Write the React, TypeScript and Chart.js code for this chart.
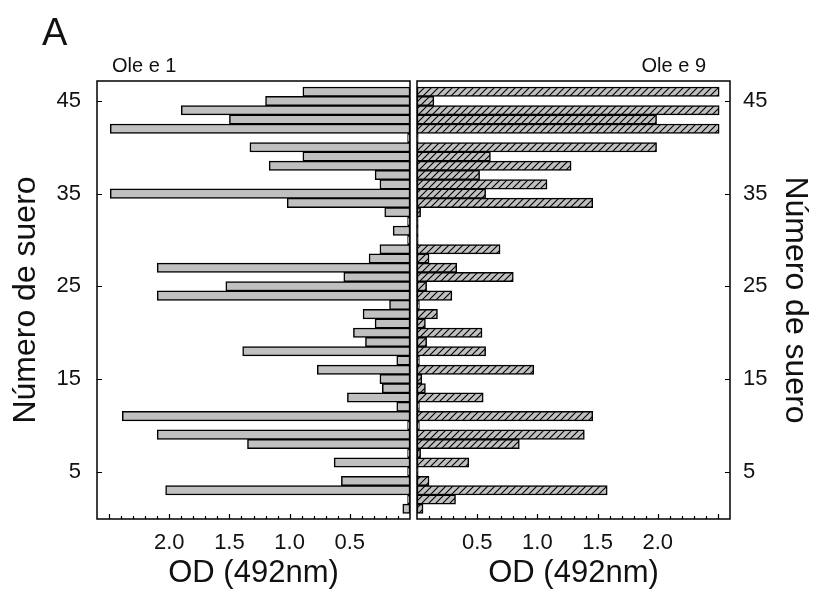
import React, { useEffect, useRef } from 'react';
import { Chart, registerables } from 'chart.js';

Chart.register(...registerables);

const serumNumbers = [
  1, 2, 3, 4, 5, 6, 7, 8, 9, 10, 11, 12, 13, 14, 15, 16, 17, 18, 19, 20, 21, 22, 23,
  24, 25, 26, 27, 28, 29, 30, 31, 32, 33, 34, 35, 36, 37, 38, 39, 40, 41, 42, 43, 44, 45, 46,
];

const oleE1 = [
  0.06, 0.02, 2.03, 0.57, 0.02, 0.63, 0.02, 1.35, 2.1, 0.02, 2.39, 0.11, 0.52, 0.23, 0.25, 0.77,
  0.11, 1.39, 0.37, 0.47, 0.29, 0.39, 0.17, 2.1, 1.53, 0.55, 2.1, 0.34, 0.25, 0.02, 0.14, 0.02,
  0.21, 1.02, 2.49, 0.25, 0.29, 1.17, 0.89, 1.33, 0.02, 2.49, 1.5, 1.9, 1.2, 0.89,
];

const oleE9 = [
  0.05, 0.32, 1.58, 0.1, 0.01, 0.43, 0.03, 0.85, 1.39, 0.02, 1.46, 0.02, 0.55, 0.07, 0.04, 0.97,
  0.02, 0.57, 0.08, 0.54, 0.07, 0.17, 0.02, 0.29, 0.08, 0.8, 0.33, 0.1, 0.69, 0.01, 0.01, 0.01,
  0.03, 1.46, 0.57, 1.08, 0.52, 1.28, 0.61, 1.99, 0.01, 2.51, 1.99, 2.51, 0.14, 2.51,
];

const serumTicks = [5, 15, 25, 35, 45];
const odTicks = [0.5, 1.0, 1.5, 2.0];
const odMinorTicks = [
  0.1, 0.2, 0.3, 0.4, 0.5, 0.6, 0.7, 0.8, 0.9, 1.0, 1.1, 1.2, 1.3, 1.4, 1.5, 1.6, 1.7, 1.8, 1.9,
  2.0, 2.1, 2.2, 2.3, 2.4, 2.5,
];

const panelTitles = ['Ole e 1', 'Ole e 9'];
const panelLetter = 'A';
const axisTitleX = 'OD (492nm)';
const axisTitleY = 'Número de suero';

const FONT = '"Liberation Sans", Arial, sans-serif';
const TEXT = '#111';
const GRAY = '#c0c0c0';
const RIGHT_CANVAS_LEFT = 414;

function makeHatch(): CanvasPattern | string {
  const c = document.createElement('canvas');
  c.width = 7;
  c.height = 7;
  const g = c.getContext('2d');
  if (!g) return GRAY;
  g.fillStyle = GRAY;
  g.fillRect(0, 0, 7, 7);
  g.strokeStyle = '#000';
  g.lineWidth = 1.1;
  g.beginPath();
  g.moveTo(0, 7);
  g.lineTo(7, 0);
  g.moveTo(-1, 1);
  g.lineTo(1, -1);
  g.moveTo(6, 8);
  g.lineTo(8, 6);
  g.stroke();
  return g.createPattern(c, 'repeat') || GRAY;
}

function framePlugin(side: 'left' | 'right') {
  return {
    id: 'frame_' + side,
    afterDatasetsDraw(chart: any) {
      const { ctx, chartArea: a, scales } = chart;
      ctx.save();
      ctx.strokeStyle = '#000';
      ctx.lineWidth = 1.5;
      ctx.strokeRect(a.left, a.top, a.right - a.left, a.bottom - a.top);
      ctx.lineWidth = 1.2;
      ctx.beginPath();
      for (const v of odMinorTicks) {
        const px = Math.round(scales.x.getPixelForValue(v)) + 0.5;
        const major = Math.abs(v * 2 - Math.round(v * 2)) < 1e-6;
        const len = major ? 5 : 3;
        ctx.moveTo(px, a.bottom);
        ctx.lineTo(px, a.bottom - len);
      }
      for (const v of serumTicks) {
        const py = Math.round(scales.y.getPixelForValue(v)) + 0.5;
        if (side === 'left') {
          ctx.moveTo(a.left, py);
          ctx.lineTo(a.left + 5, py);
        } else {
          ctx.moveTo(a.right, py);
          ctx.lineTo(a.right - 5, py);
        }
      }
      ctx.stroke();
      ctx.fillStyle = TEXT;
      ctx.textBaseline = 'alphabetic';
      ctx.font = '20px ' + FONT;
      if (side === 'left') {
        ctx.textAlign = 'left';
        ctx.fillText(panelTitles[0], 112, 72);
        ctx.font = '38px ' + FONT;
        ctx.fillText(panelLetter, 42, 45);
      } else {
        ctx.textAlign = 'right';
        ctx.fillText(panelTitles[1], 706 - RIGHT_CANVAS_LEFT, 72);
      }
      ctx.restore();
    },
  };
}

function buildConfig(side: 'left' | 'right', values: number[], fill: any) {
  const isLeft = side === 'left';
  return {
    type: 'bar' as const,
    data: {
      datasets: [
        {
          data: serumNumbers.map((s, i) => ({ x: values[i], y: s })),
          backgroundColor: fill,
          borderColor: '#000',
          borderWidth: 1.5,
          borderSkipped: false,
          barThickness: 9.4,
        },
      ],
    },
    options: {
      indexAxis: 'y' as const,
      animation: false as const,
      responsive: false,
      maintainAspectRatio: false,
      layout: {
        padding: isLeft
          ? { top: 81, right: 2, left: 0, bottom: 0 }
          : { top: 81, right: 0, left: 3, bottom: 0 },
      },
      plugins: { legend: { display: false }, tooltip: { enabled: false } },
      scales: {
        x: {
          type: 'linear' as const,
          reverse: isLeft,
          min: 0,
          max: 2.6,
          offset: false,
          grid: { display: false, drawTicks: false },
          border: { display: false },
          ticks: {
            color: TEXT,
            padding: 11,
            font: { family: FONT, size: 22 },
            maxRotation: 0,
            autoSkip: false,
            callback: (v: any) => Number(v).toFixed(1),
          },
          afterBuildTicks: (s: any) => {
            s.ticks = odTicks.map((v) => ({ value: v }));
          },
          afterFit: (s: any) => {
            s.height = 76;
          },
          title: {
            display: true,
            text: axisTitleX,
            color: TEXT,
            font: { family: FONT, size: 31 },
            padding: { top: 0, bottom: 3 },
          },
        },
        y: {
          type: 'linear' as const,
          position: side,
          min: -0.1,
          max: 47.15,
          offset: false,
          grid: { display: false, drawTicks: false, offset: false },
          border: { display: false },
          ticks: {
            color: TEXT,
            padding: isLeft ? 16 : 13,
            font: { family: FONT, size: 22 },
            autoSkip: false,
          },
          afterBuildTicks: (s: any) => {
            s.ticks = serumTicks.map((v) => ({ value: v }));
          },
          afterFit: (s: any) => {
            s.width = isLeft ? 97 : 84;
          },
          title: {
            display: true,
            text: axisTitleY,
            color: TEXT,
            font: { family: FONT, size: 32 },
            padding: { top: isLeft ? 7 : 0, bottom: 0 },
          },
        },
      },
    },
    plugins: [framePlugin(side)],
  };
}

export default function App() {
  const leftRef = useRef<HTMLCanvasElement>(null);
  const rightRef = useRef<HTMLCanvasElement>(null);

  useEffect(() => {
    if (!leftRef.current || !rightRef.current) return;
    const hatch = makeHatch();
    const left = new Chart(leftRef.current, buildConfig('left', oleE1, GRAY) as any);
    const right = new Chart(rightRef.current, buildConfig('right', oleE9, hatch) as any);
    return () => {
      left.destroy();
      right.destroy();
    };
  }, []);

  return (
    <div
      style={{
        position: 'absolute',
        left: 0,
        top: 0,
        width: 814,
        height: 595,
        background: '#fff',
        overflow: 'hidden',
      }}
    >
      <canvas
        ref={leftRef}
        width={412}
        height={595}
        style={{ position: 'absolute', left: 0, top: 0, width: 412, height: 595 }}
      />
      <canvas
        ref={rightRef}
        width={400}
        height={595}
        style={{ position: 'absolute', left: RIGHT_CANVAS_LEFT, top: 0, width: 400, height: 595 }}
      />
    </div>
  );
}
